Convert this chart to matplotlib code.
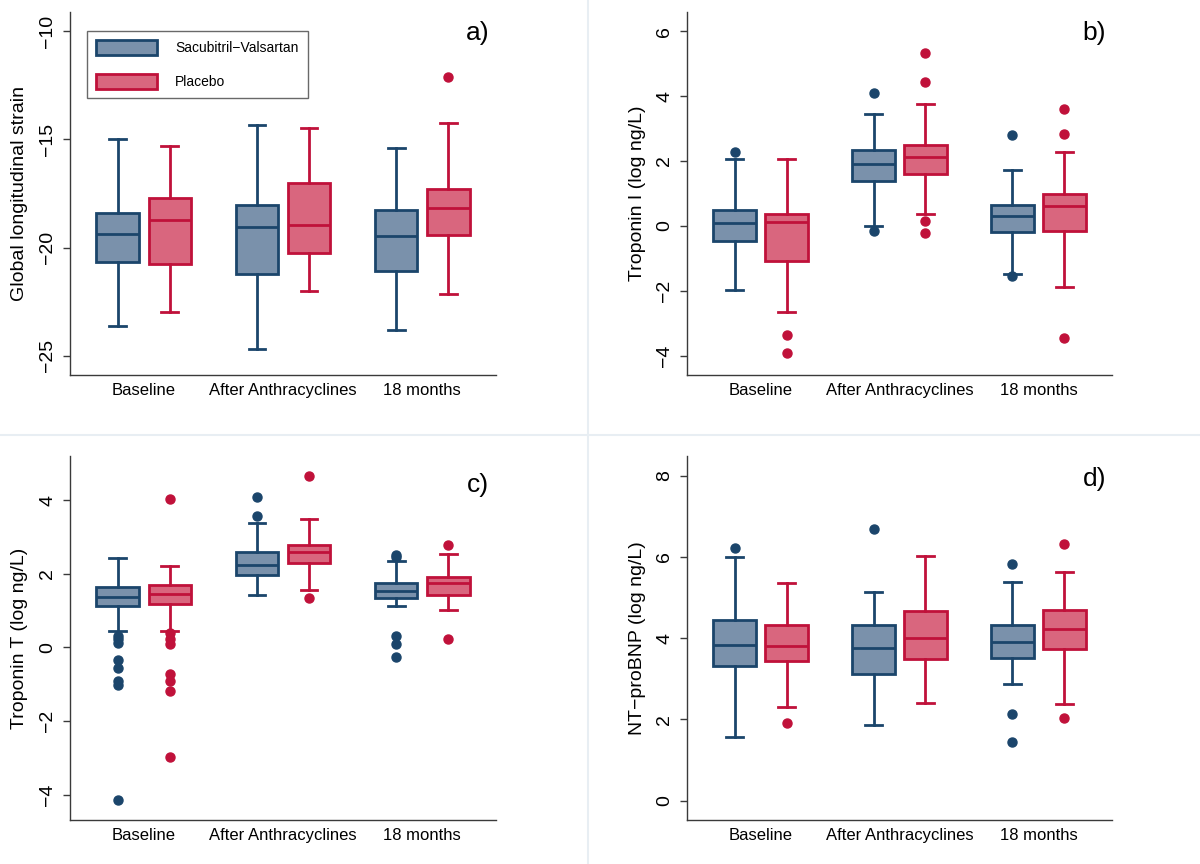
import matplotlib
matplotlib.use("Agg")
import matplotlib.pyplot as plt
from matplotlib.patches import Patch
from matplotlib.lines import Line2D

plt.rcParams['font.family'] = ['Liberation Sans', 'DejaVu Sans']

groups = ["Baseline", "After Anthracyclines", "18 months"]
series = ["Sacubitril\u2212Valsartan", "Placebo"]

# stats per panel: [whislo, q1, med, q3, whishi], per group, per series
# Panel a: Global longitudinal strain
gls_sv = [[-23.61, -20.67, -19.38, -18.39, -15.00],
          [-24.71, -21.23, -19.04, -18.04, -14.33],
          [-23.83, -21.09, -19.49, -18.27, -15.42]]
gls_pl = [[-22.98, -20.75, -18.73, -17.69, -15.31],
          [-22.03, -20.27, -18.98, -17.02, -14.48],
          [-22.15, -19.41, -18.18, -17.30, -14.24]]
gls_sv_out = [[], [], []]
gls_pl_out = [[], [], [-12.13]]

# Panel b: Troponin I
tni_sv = [[-1.97, -0.46, 0.09, 0.50, 2.05],
          [-0.01, 1.38, 1.90, 2.33, 3.46],
          [-1.50, -0.18, 0.31, 0.63, 1.72]]
tni_pl = [[-2.66, -1.10, 0.12, 0.37, 2.06],
          [0.37, 1.60, 2.13, 2.49, 3.74],
          [-1.88, -0.15, 0.61, 0.98, 2.28]]
tni_sv_out = [[2.26], [4.08, -0.17], [2.80, -1.55]]
tni_pl_out = [[-3.36, -3.93], [5.33, 4.44, 0.15, -0.21], [3.60, 2.84, -3.45]]

# Panel c: Troponin T
tnt_sv = [[0.44, 1.13, 1.36, 1.63, 2.44],
          [1.41, 1.96, 2.25, 2.58, 3.37],
          [1.12, 1.35, 1.54, 1.75, 2.34]]
tnt_pl = [[0.44, 1.19, 1.44, 1.70, 2.22],
          [1.57, 2.29, 2.58, 2.79, 3.49],
          [1.01, 1.41, 1.75, 1.92, 2.53]]
tnt_sv_out = [[0.32, 0.22, 0.12, -0.34, -0.57, -0.92, -1.03, -4.16],
              [4.09, 3.57],
              [2.52, 2.45, 0.30, 0.08, -0.26]]
tnt_pl_out = [[4.02, 0.39, 0.24, 0.09, -0.71, -0.90, -1.18, -2.99],
              [4.67, 1.34],
              [2.77, 0.24]]

# Panel d: NT-proBNP
bnp_sv = [[1.56, 3.32, 3.83, 4.45, 5.99],
          [1.85, 3.12, 3.76, 4.31, 5.13],
          [2.87, 3.52, 3.90, 4.33, 5.37]]
bnp_pl = [[2.31, 3.44, 3.81, 4.31, 5.35],
          [2.39, 3.48, 3.99, 4.67, 6.02],
          [2.37, 3.74, 4.21, 4.69, 5.63]]
bnp_sv_out = [[6.22], [6.69], [5.83, 2.14, 1.43]]
bnp_pl_out = [[1.90], [], [6.32, 2.03]]

panels = [
    dict(label="a)", ylabel="Global longitudinal strain", sv=gls_sv, pl=gls_pl,
         svo=gls_sv_out, plo=gls_pl_out, ylim=(-25.89, -9.12), ticks=[-25, -20, -15, -10],
         lab_y=0.942, legend=True),
    dict(label="b)", ylabel="Troponin I (log ng/L)", sv=tni_sv, pl=tni_pl,
         svo=tni_sv_out, plo=tni_pl_out, ylim=(-4.60, 6.59), ticks=[-4, -2, 0, 2, 4, 6],
         lab_y=0.942, legend=False),
    dict(label="c)", ylabel="Troponin T (log ng/L)", sv=tnt_sv, pl=tnt_pl,
         svo=tnt_sv_out, plo=tnt_pl_out, ylim=(-4.69, 5.20), ticks=[-4, -2, 0, 2, 4],
         lab_y=0.92, legend=False),
    dict(label="d)", ylabel="NT\u2212proBNP (log ng/L)", sv=bnp_sv, pl=bnp_pl,
         svo=bnp_sv_out, plo=bnp_pl_out, ylim=(-0.48, 8.48), ticks=[0, 2, 4, 6, 8],
         lab_y=0.937, legend=False),
]

blue_fill, blue_edge = "#7A91AB", "#1B456B"
red_fill, red_edge = "#D9667E", "#C0113A"
axis_col = "#3a3a3a"

fig = plt.figure(figsize=(12, 8.64), dpi=100)
fig.patch.set_facecolor("white")

W, H = 1200, 864
rects = [(70, 12, 496, 375), (687, 12, 1112, 375),
         (70, 456, 496, 820), (687, 456, 1112, 820)]

# faint separators between panels
fig.add_artist(Line2D([588 / W, 588 / W], [0, 1], color="#E8EEF3", lw=1.5))
fig.add_artist(Line2D([0, 1], [1 - 435 / H, 1 - 435 / H], color="#E8EEF3", lw=1.5))

offset = 0.187
bw = 0.306


def stats_list(vals, outs):
    out = []
    for v, o in zip(vals, outs):
        out.append(dict(whislo=v[0], q1=v[1], med=v[2], q3=v[3], whishi=v[4], fliers=o))
    return out


for p, (l, t, r, b) in zip(panels, rects):
    ax = fig.add_axes([l / W, 1 - b / H, (r - l) / W, (b - t) / H])
    for key, fill, edge, sgn, outs in [("sv", blue_fill, blue_edge, -1, "svo"),
                                       ("pl", red_fill, red_edge, 1, "plo")]:
        pos = [i + 1 + sgn * offset for i in range(len(groups))]
        ax.bxp(stats_list(p[key], p[outs]), positions=pos, widths=bw,
               patch_artist=True, showfliers=True,
               boxprops=dict(facecolor=fill, edgecolor=edge, linewidth=2.0),
               medianprops=dict(color=edge, linewidth=2.0),
               whiskerprops=dict(color=edge, linewidth=2.0),
               capprops=dict(color=edge, linewidth=2.0),
               capwidths=0.12,
               flierprops=dict(marker='o', markerfacecolor=edge, markeredgecolor=edge,
                               markersize=6.5, linestyle='none'))
    ax.set_xlim(0.47, 3.53)
    ax.set_ylim(*p["ylim"])
    ax.set_xticks([1, 2, 3])
    ax.set_xticklabels(groups, fontsize=12)
    ax.set_yticks(p["ticks"])
    ax.set_yticklabels([str(v).replace("-", "\u2212") for v in p["ticks"]],
                       fontsize=14, rotation=90, va="center")
    ax.tick_params(axis="x", length=0, pad=6, colors="black")
    ax.tick_params(axis="y", length=5, width=1, pad=5, color=axis_col, labelcolor="black")
    for s in ["top", "right"]:
        ax.spines[s].set_visible(False)
    for s in ["left", "bottom"]:
        ax.spines[s].set_color(axis_col)
        ax.spines[s].set_linewidth(1.0)
    ax.text(-50 / (r - l), 0.5, p["ylabel"], rotation=90, ha="center", va="center",
            fontsize=14, transform=ax.transAxes)
    ax.text(0.958, p["lab_y"], p["label"], ha="center", va="center", fontsize=19,
            transform=ax.transAxes)
    if p["legend"]:
        handles = [Patch(facecolor=blue_fill, edgecolor=blue_edge, linewidth=2.0),
                   Patch(facecolor=red_fill, edgecolor=red_edge, linewidth=2.0)]
        leg = ax.legend(handles, series, loc="upper left", bbox_to_anchor=(0.04, 0.947),
                        fontsize=10, handlelength=4.4, handleheight=1.3,
                        labelspacing=1.3, handletextpad=1.3, borderpad=0.65,
                        borderaxespad=0.0, fancybox=False, frameon=True)
        leg.get_frame().set_edgecolor("#444444")
        leg.get_frame().set_linewidth(1.0)

fig.savefig("out.png", dpi=100, facecolor="white")
